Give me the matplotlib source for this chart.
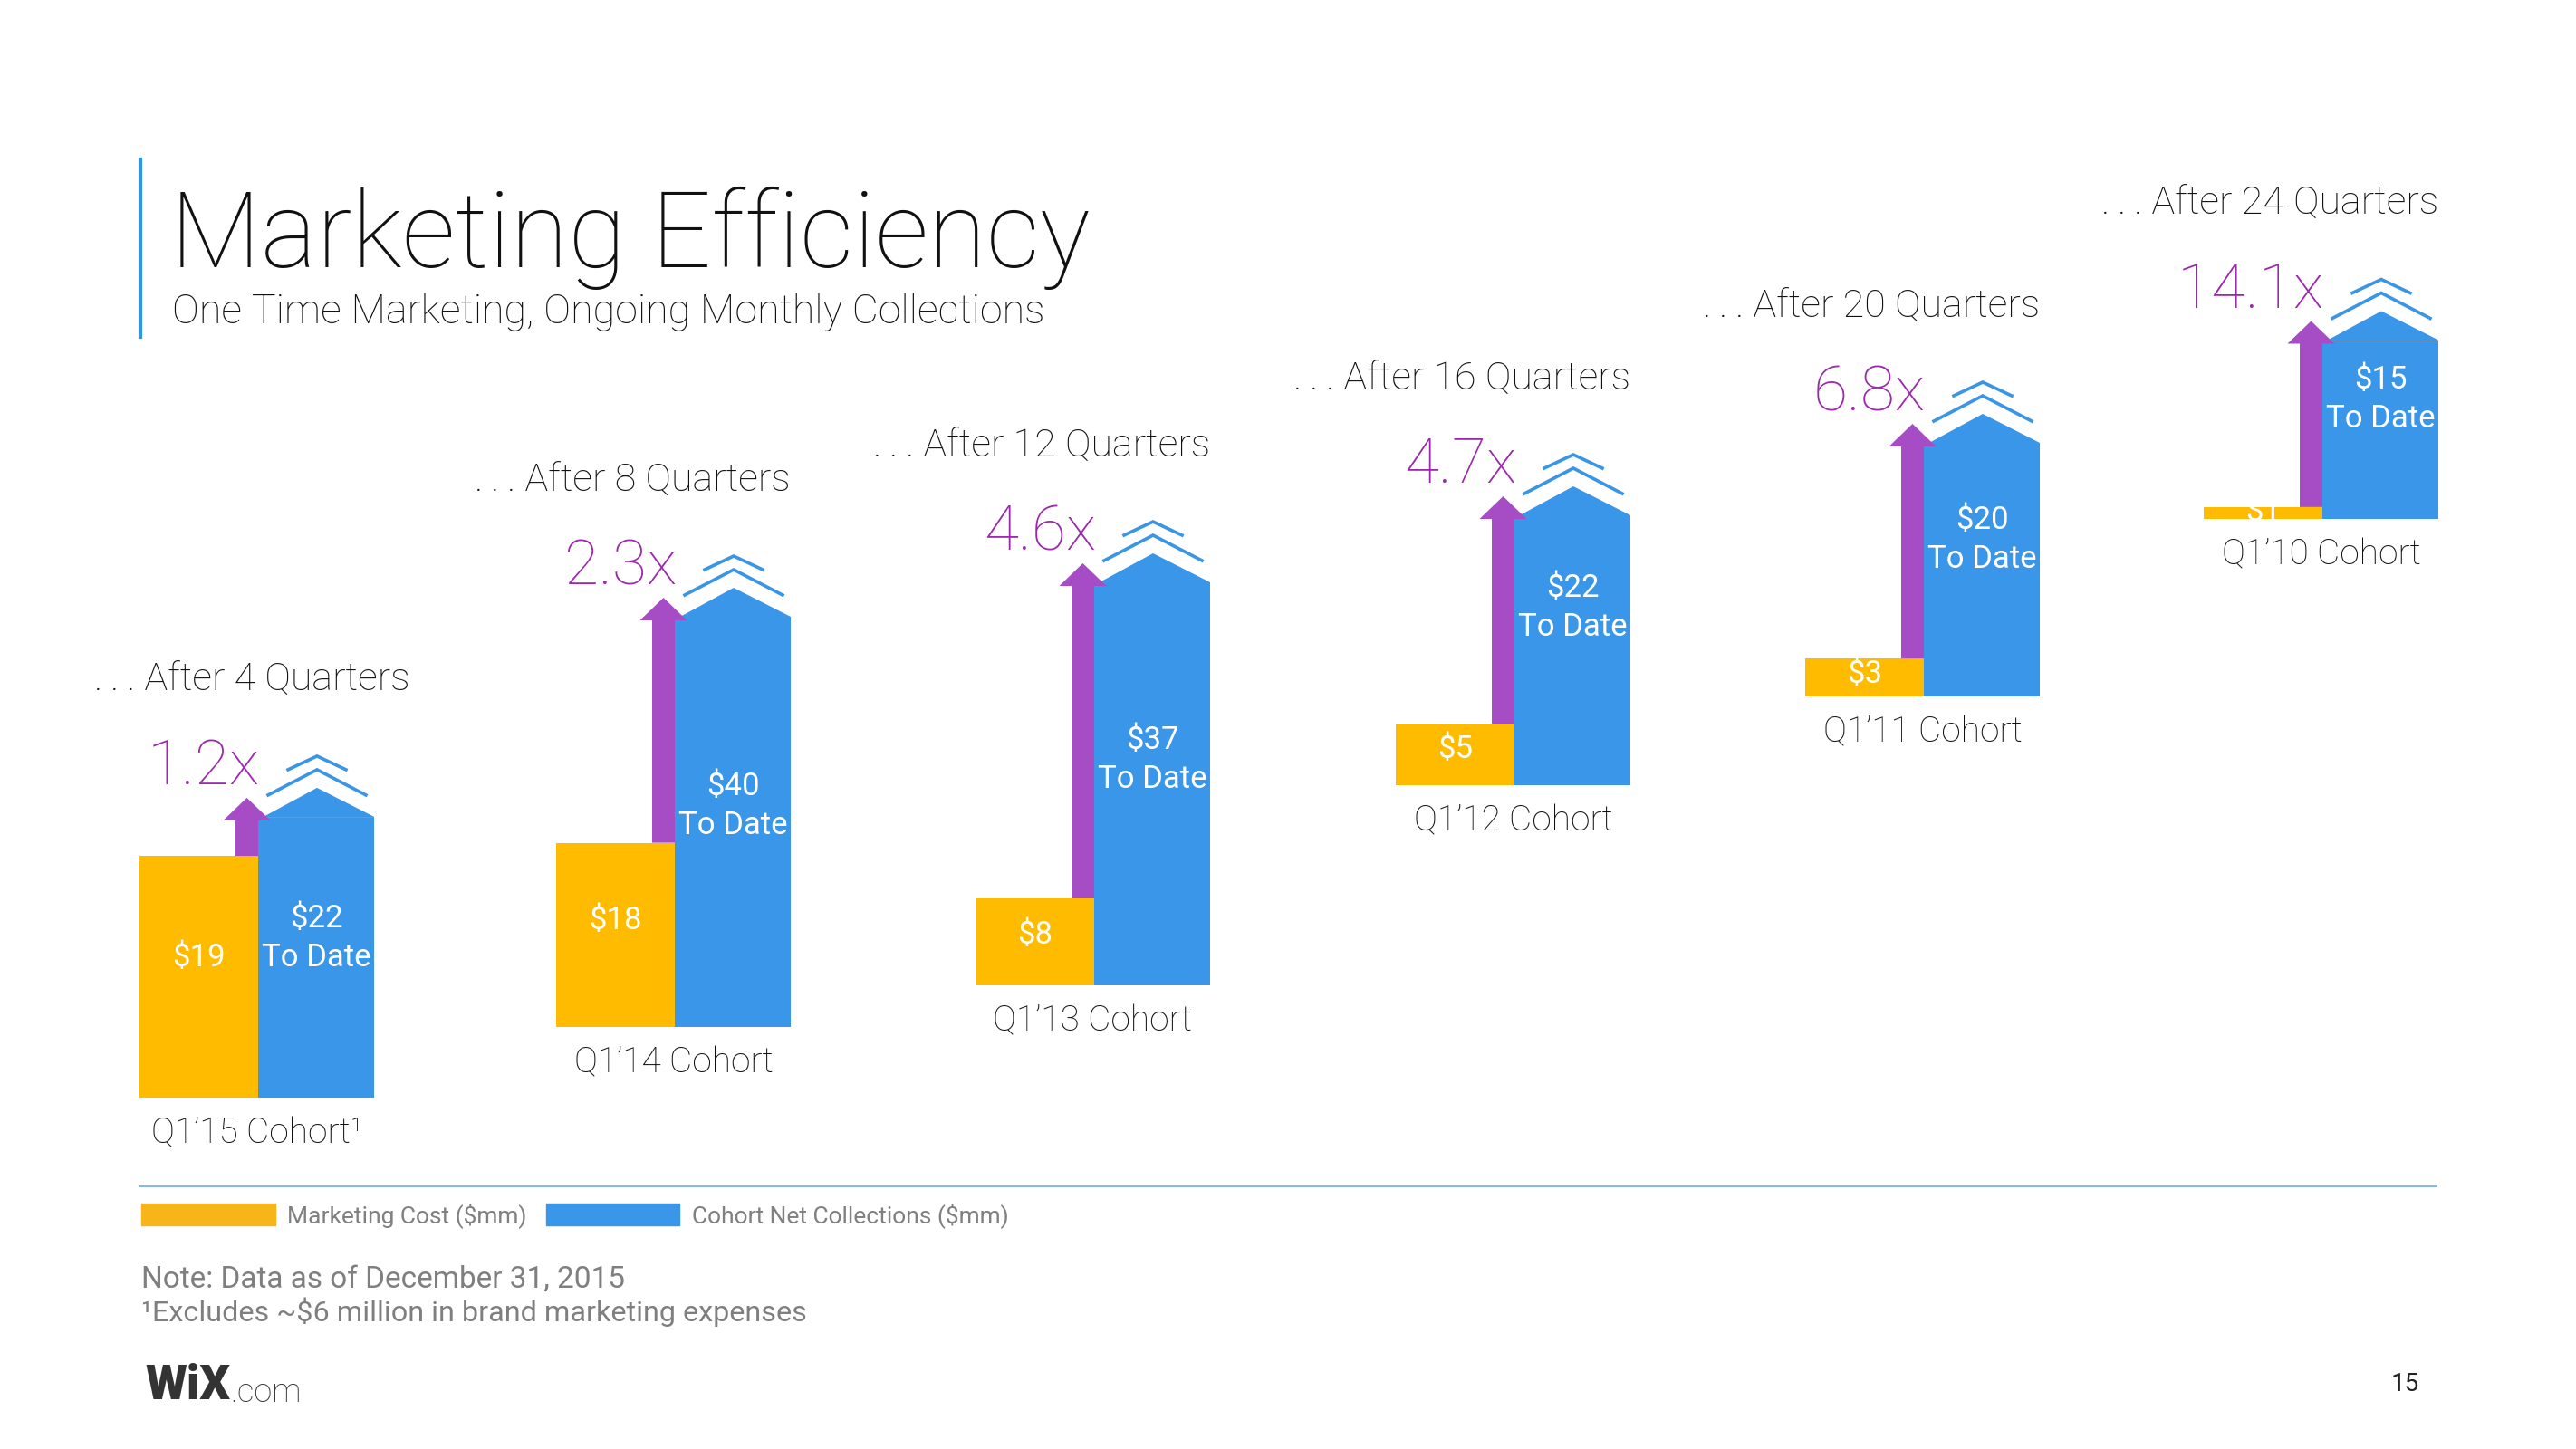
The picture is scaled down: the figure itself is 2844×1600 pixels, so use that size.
import matplotlib
matplotlib.use("Agg")
import matplotlib.pyplot as plt
from matplotlib.lines import Line2D
from matplotlib.patches import Patch, Polygon

plt.rcParams['font.family'] = ['Roboto', 'DejaVu Sans']
plt.rcParams['font.weight'] = 'light'

# data ($mm)
cohorts = ["Q1\u201915 Cohort\u00b9", "Q1\u201914 Cohort", "Q1\u201913 Cohort",
           "Q1\u201912 Cohort", "Q1\u201911 Cohort", "Q1\u201910 Cohort"]
quarters = [4, 8, 12, 16, 20, 24]
marketing_cost = [19, 18, 8, 5, 3, 1]
collections = [22, 40, 37, 22, 20, 15]
multiples = [1.2, 2.3, 4.6, 4.7, 6.8, 14.1]

# layout, in pixels of the 2844x1600 slide
W, H = 2844, 1600
bar_left = [154, 614, 1077, 1541, 1993, 2433]
base_y = [1212, 1134, 1088, 867, 769, 573]
px_per_mm = [14.05, 11.3, 12.0, 13.5, 13.95, 13.1]
label_frac = [0.57, 0.54, 0.56, 0.66, 0.62, 0.67]
head_dx = [39, 0, 0, 0, 0, 0]
YW, BW = 131, 128
ROOF = 33
AX_H = 800

YELLOW = '#FFBB00'
BLUE = '#3A96E8'
PURPLE = '#A64CC5'
PURPLE_TXT = '#9C28AE'
CHEVRON = '#3B95E5'

fig = plt.figure(figsize=(W / 100, H / 100), dpi=100)
bg = fig.add_axes([0, 0, 1, 1])
bg.set_xlim(0, W)
bg.set_ylim(H, 0)
bg.axis('off')

for i in range(len(cohorts)):
    s = px_per_mm[i]
    px = 1.0 / s
    cost, coll = marketing_cost[i], collections[i]
    ax = fig.add_axes([bar_left[i] / W, 1 - base_y[i] / H, (YW + BW) / W, AX_H / H])
    ax.set_xlim(0, YW + BW)
    ax.set_ylim(0, AX_H / s)
    ax.axis('off')

    ybar = ax.bar(0, cost, width=YW, align='edge', color=YELLOW, zorder=2)[0]
    ax.bar(YW, coll, width=BW, align='edge', color=BLUE, zorder=2)
    peak_x = YW + 65
    ax.add_patch(Polygon([(YW + 4, coll), (peak_x, coll + ROOF * px), (YW + BW + 2, coll)],
                         closed=True, color=BLUE, zorder=2, lw=0))

    # chevrons above the roof
    a1 = coll + (ROOF + 20) * px
    ax.plot([peak_x - 54, peak_x, peak_x + 54], [a1 - 28 * px, a1, a1 - 28 * px],
            color=CHEVRON, lw=2.6, solid_joinstyle='miter', zorder=3)
    a2 = a1 + 15 * px
    ax.plot([peak_x - 32, peak_x, peak_x + 32], [a2 - 15 * px, a2, a2 - 15 * px],
            color=CHEVRON, lw=2.6, solid_joinstyle='miter', zorder=3)

    # purple arrow from cost up to collections
    base = coll - 3 * px
    c = YW - 12.5
    ax.fill([YW - 25, YW - 25, c - 26, c, c + 26, YW, YW],
            [cost, base, base, base + 25 * px, base, base, cost],
            color=PURPLE, lw=0, zorder=4)
    ax.text(YW + 2, base + 40 * px, f"{multiples[i]}x", ha='right', va='baseline',
            fontsize=50, color=PURPLE_TXT)

    ax.text(YW + BW + head_dx[i], coll + (ROOF + 118) * px,
            f".\u2009.\u2009. After {quarters[i]} Quarters", ha='right', va='center',
            fontsize=31, color='#111111')
    ax.text((YW + BW) / 2, -40 * px, cohorts[i], ha='center', va='center',
            fontsize=28, color='#111111')

    t = ax.text(YW / 2, cost * 0.58, f"${cost}", ha='center', va='center',
                fontsize=25, fontweight='normal', color='white', zorder=5)
    t.set_clip_path(ybar)
    yc = coll * label_frac[i]
    ax.text(YW + BW / 2, yc + 21.5 * px, f"${coll}", ha='center', va='center',
            fontsize=25, fontweight='normal', color='white', zorder=5)
    ax.text(YW + BW / 2, yc - 21.5 * px, "To Date", ha='center', va='center',
            fontsize=25, fontweight='normal', color='white', zorder=5)

# title block
bg.add_line(Line2D([155, 155], [176, 372], color='#2E97E8', lw=3))
bg.text(188, 295, "Marketing Efficiency", fontsize=84, va='baseline', color='#111111')
bg.text(190, 357, "One Time Marketing, Ongoing Monthly Collections", fontsize=32.3,
        va='baseline', color='#111111')

# separator and legend
bg.add_line(Line2D([154, 2690], [1310, 1310], color='#8AB9DF', lw=1.5))
handles = [Patch(color='#F8B51A', label='Marketing Cost ($mm)'),
           Patch(color=BLUE, label='Cohort Net Collections ($mm)')]
fig.legend(handles=handles, loc='upper left', bbox_to_anchor=(156 / W, 1 - 1328 / H),
           ncol=2, frameon=False, handlelength=5.6, handleheight=1.0,
           handletextpad=0.5, columnspacing=0.8, borderpad=0, borderaxespad=0,
           labelcolor='#808080', prop={'size': 19, 'weight': 'normal'})

bg.text(156, 1413, "Note: Data as of December 31, 2015", fontsize=24, va='center',
        fontweight='normal', color='#7F7F7F')
bg.text(156, 1449, "\u00b9Excludes ~$6 million in brand marketing expenses", fontsize=23.3,
        va='center', fontweight='normal', color='#7F7F7F')

wix = bg.text(160, 1545, "WiX", fontsize=38, fontweight='black', va='baseline', color='#333333')
bg.annotate(".com", xy=(1, 0), xycoords=wix, ha='left', va='bottom', fontsize=26,
            color='#333333')
bg.text(2655, 1529, "15", ha='center', va='center', fontsize=20, fontweight='normal',
        color='#222222')

fig.savefig("out.png", dpi=100, facecolor='white')
